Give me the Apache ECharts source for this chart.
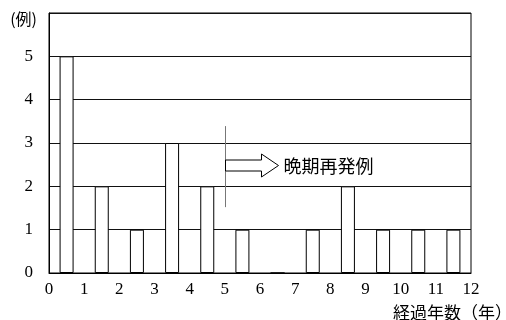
<!DOCTYPE html>
<html>
<head>
<meta charset="utf-8">
<script src="https://cdn.jsdelivr.net/npm/echarts@6/dist/echarts.min.js"></script>
<style>
html,body{margin:0;padding:0;background:#fff;}
#chart{width:506px;height:320px;}
</style>
</head>
<body>
<div id="chart"></div>
<script>
// Data
var yearCenters = [0.5, 1.5, 2.5, 3.5, 4.5, 5.5, 6.5, 7.5, 8.5, 9.5, 10.5, 11.5];
var caseCounts  = [5, 2, 1, 3, 2, 1, 0, 1, 2, 1, 1, 1];
var xTicks = [0,1,2,3,4,5,6,7,8,9,10,11,12];
var yTicks = [0,1,2,3,4,5];
var yUnitLabel = '(例)';
var xAxisTitle = '経過年数（年）';
var annotationText = '晩期再発例';
var markerYear = 5;
var markerRange = [1.52, 3.39];
var arrowLevel = 2.5;

var serif = "'Liberation Serif', 'Times New Roman', serif";
var cjk = '"Noto Sans CJK JP", sans-serif';

var chart = echarts.init(document.getElementById('chart'), null, {renderer:'canvas'});
var barData = yearCenters.map(function(x, i){ return [x, caseCounts[i]]; });

chart.setOption({
  animation: false,
  backgroundColor: '#fff',
  textStyle: {fontFamily: serif},
  grid: {left: 49, right: 35, top: 13, bottom: 47, show: true, borderColor: '#000', borderWidth: 1, backgroundColor: 'transparent'},
  xAxis: {
    type: 'value', min: 0, max: 12, interval: 1,
    axisLine: {show: true, lineStyle: {color: '#000', width: 1}},
    axisTick: {show: false},
    splitLine: {show: false},
    axisLabel: {color: '#000', fontFamily: serif, fontSize: 17, margin: 8,
      formatter: function(v){ return xTicks.indexOf(v) >= 0 ? String(v) : ''; }}
  },
  yAxis: {
    type: 'value', min: 0, max: 6, interval: 1,
    axisLine: {show: true, lineStyle: {color: '#000', width: 1}},
    axisTick: {show: false},
    splitLine: {show: true, lineStyle: {color: '#111', width: 1}},
    axisLabel: {color: '#000', fontFamily: serif, fontSize: 17, margin: 16,
      formatter: function(v){ return yTicks.indexOf(v) >= 0 ? String(v) : ''; }}
  },
  series: [{
    type: 'bar',
    data: barData,
    barWidth: 14,
    itemStyle: {color: '#fff', borderColor: '#000', borderWidth: 1},
    markLine: {
      silent: true, symbol: 'none', label: {show: false},
      lineStyle: {color: '#777', width: 1, type: 'solid'},
      data: [[{coord: [markerYear, markerRange[0]]}, {coord: [markerYear, markerRange[1]]}]]
    }
  }]
});

var a = chart.convertToPixel({gridIndex: 0}, [markerYear, arrowLevel]);
var ax = Math.round(a[0]) + 0.5, ay = Math.round(a[1]) + 0.5;
chart.setOption({
  graphic: [
    {type: 'polygon', z: 100,
     shape: {points: [[ax, ay-5.5],[ax+36, ay-5.5],[ax+36, ay-11.5],[ax+53, ay],[ax+36, ay+11.5],[ax+36, ay+5.5],[ax, ay+5.5]]},
     style: {fill: '#fff', stroke: '#000', lineWidth: 1}},
    {type: 'text', z: 100, x: ax + 58, y: ay + 1,
     style: {text: annotationText, font: '18px ' + cjk, fill: '#000', textAlign: 'left', textVerticalAlign: 'middle'}},
    {type: 'text', z: 100, x: 37, y: 19,
     style: {text: yUnitLabel, font: '16px ' + cjk, fill: '#000', textAlign: 'right', textVerticalAlign: 'middle'}},
    {type: 'text', z: 100, x: 512, y: 313,
     style: {text: xAxisTitle, font: '17px ' + cjk, fill: '#000', textAlign: 'right', textVerticalAlign: 'middle'}}
  ]
});
</script>
</body>
</html>
